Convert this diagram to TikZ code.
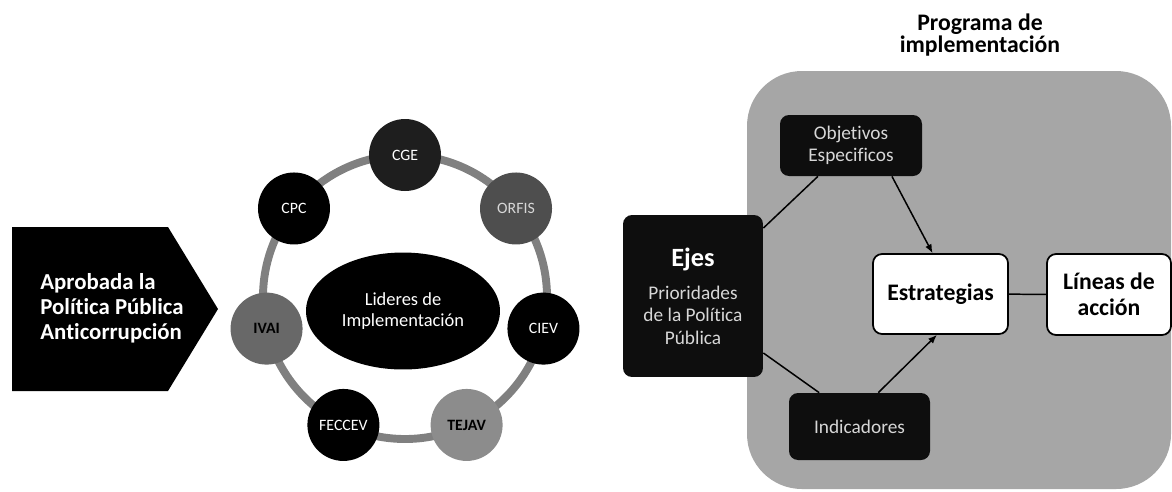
\documentclass[tikz,border=0pt]{standalone}
\usepackage{fontspec}
\setmainfont{Carlito}[Ligatures=NoCommon]
\usepackage{tikz}
\usetikzlibrary{arrows.meta,positioning,shapes.geometric}
\definecolor{ringc}{RGB}{128,128,128}
\definecolor{progc}{RGB}{166,166,166}
\definecolor{cira}{RGB}{30,30,30}
\definecolor{cirb}{RGB}{78,78,78}
\definecolor{circ}{RGB}{104,104,104}
\definecolor{cird}{RGB}{140,140,140}
\definecolor{boxc}{RGB}{14,14,14}
\definecolor{txtl}{RGB}{215,215,215}

\tikzset{
  lider/.style={circle,minimum size=1.44cm,inner sep=0pt,font=\fontsize{9}{10}\selectfont},
  darkbox/.style={rounded corners=0.18cm,fill=boxc,text=txtl,align=center,inner sep=0pt,
    font=\fontsize{11}{12.8}\selectfont},
  whitebox/.style={rounded corners=0.18cm,fill=white,draw=black,line width=1pt,align=center,
    inner sep=0pt,font=\fontsize{13.5}{15}\selectfont\bfseries},
  link/.style={line width=0.85pt}
}

\begin{document}
\begin{tikzpicture}[x=0.02cm,y=-0.02cm,>={Latex[length=5pt,width=4pt]}]
  \useasboundingbox (0,0) rectangle (1172,491);
  % left: approved policy
  \fill[black] (12,227)--(168,227)--(218,309)--(168,391)--(12,391)--cycle;
  \node[anchor=west,align=left,inner sep=0pt,text=white,font=\fontsize{13}{14.2}\selectfont\bfseries]
    (aprob) at (40,308) {Aprobada la\\Política Pública\\Anticorrupción};
  % ring of leaders
  \coordinate (ring) at (405,297);
  \draw[ringc,line width=4.5pt] (ring) circle[radius=142];
  \node[ellipse,fill=black,text=white,minimum width=3.88cm,minimum height=2.34cm,inner sep=0pt,
    align=center,font=\fontsize{10.5}{11.5}\selectfont] (lider) at (403,311)
    {Lideres de\\Implementación};
  \foreach \nm/\lbl/\fc/\tc/\ft [count=\i from 0] in
    {cge/CGE/cira/white/, orfis/ORFIS/cirb/txtl/, ciev/CIEV/black/white/,
     tejav/TEJAV/cird/black/\bfseries, feccev/FECCEV/black/white/,
     ivai/IVAI/circ/black/\bfseries, cpc/CPC/black/white/}
    \node[lider,fill=\fc,text=\tc] (\nm) at ([shift={(\i*360/7-90:142)}]ring) {\ft\lbl};
  % right: implementation program
  \node[font=\fontsize{13.5}{12.5}\selectfont\bfseries,align=center] (prog) at (980,35)
    {Programa de\\implementación};
  \fill[progc,rounded corners=1.1cm] (747,71) rectangle (1171,489);
  \node[darkbox,minimum width=2.84cm,minimum height=1.22cm] (obj) at (851,145.5)
    {Objetivos\\Especificos};
  \node[darkbox,minimum width=2.8cm,minimum height=3.24cm] (ejes) at (693,296)
    {{\color{white}\fontsize{15}{17}\selectfont\bfseries Ejes}\\[6pt]Prioridades\\de la Política\\Pública};
  \node[darkbox,minimum width=2.82cm,minimum height=1.34cm] (ind) at (859.5,426.5) {Indicadores};
  \node[whitebox,minimum width=2.7cm,minimum height=1.6cm] (estr) at (940.5,294) {Estrategias};
  \node[whitebox,minimum width=2.48cm,minimum height=1.62cm] (lin) at (1109,294.5)
    {Líneas de\\acción};
  \draw[link] (ejes.44) -- (obj.223);
  \draw[link,->] (obj.-37) -- (estr.101);
  \draw[link] (ejes.-39) -- (ind.140);
  \draw[link,->] (ind.61) -- (estr.-95);
  \draw[link] (estr) -- (lin);
\end{tikzpicture}
\end{document}
